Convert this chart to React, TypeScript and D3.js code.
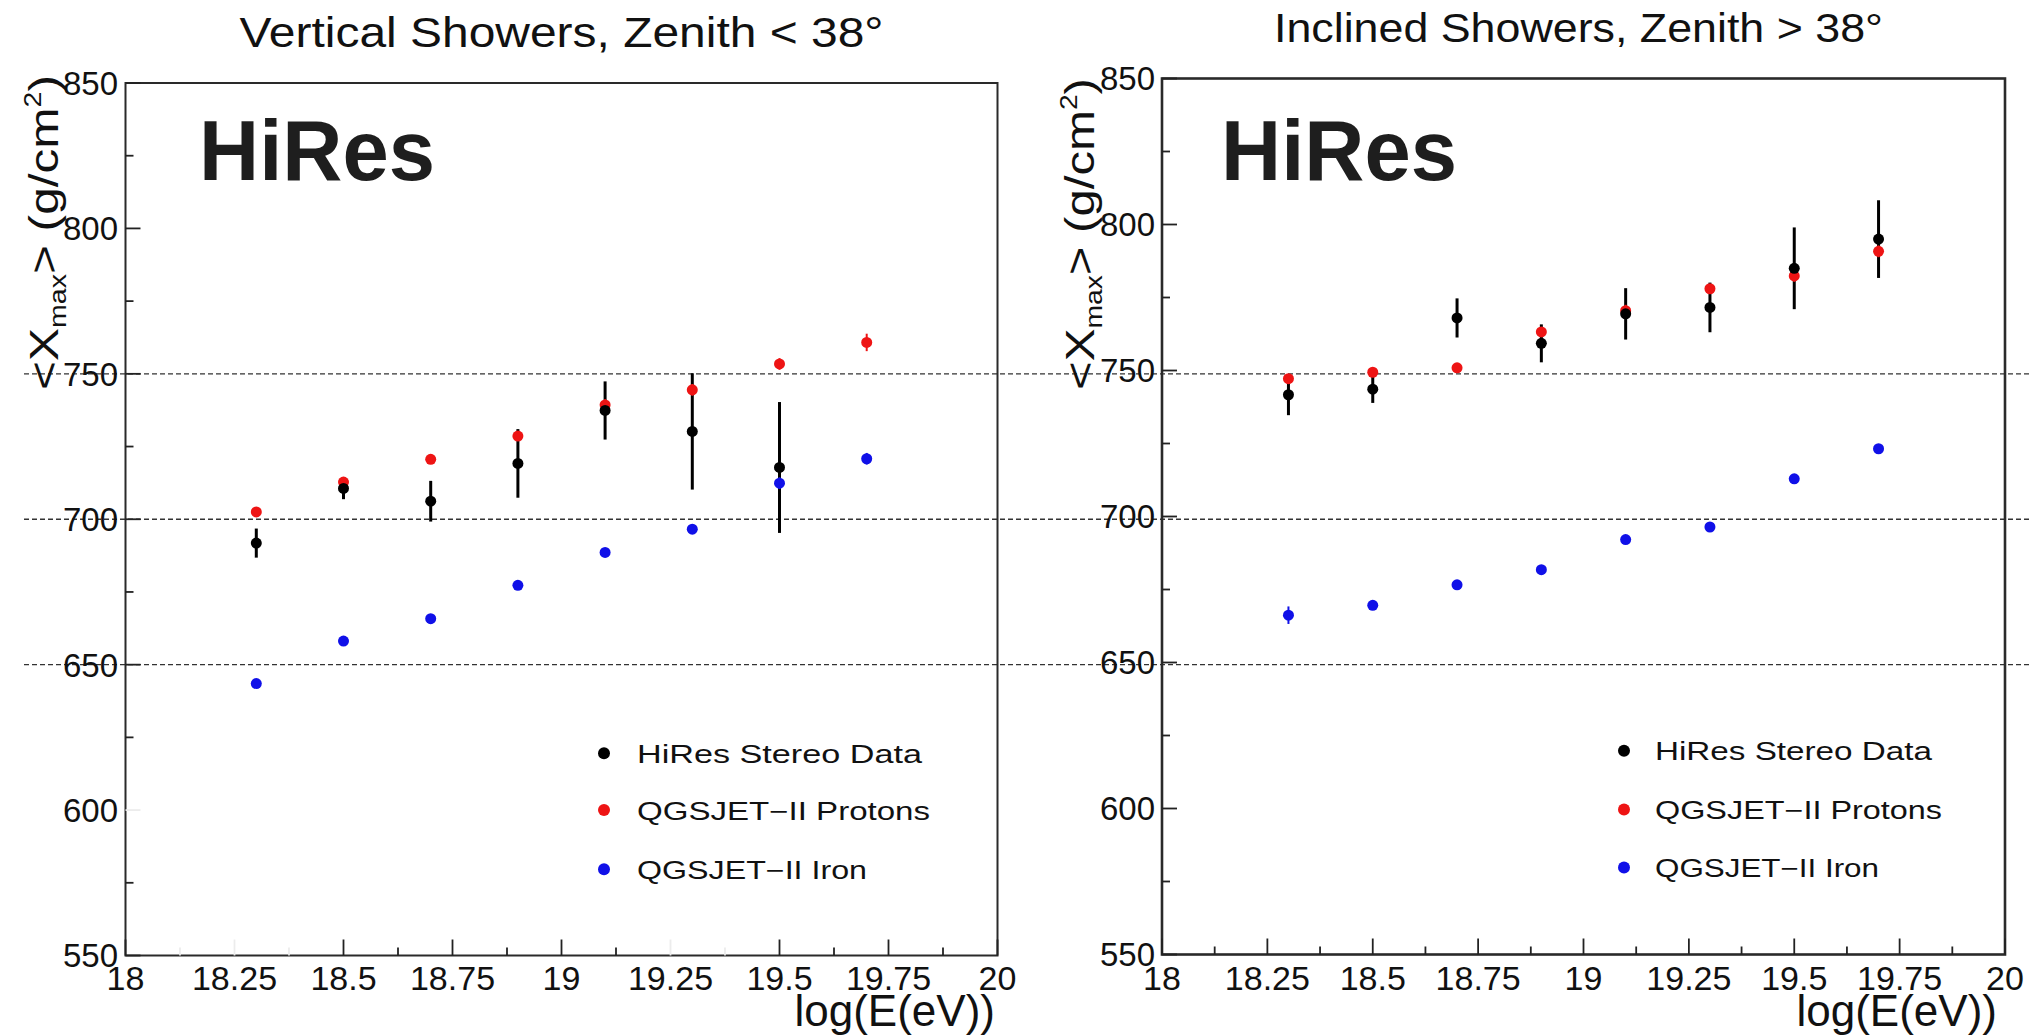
import React from 'react';
import * as d3 from 'd3';

// <Xmax> versus log10(E/eV): HiRes stereo data against QGSJET-II simulations
const energyBins = [18.3, 18.5, 18.7, 18.9, 19.1, 19.3, 19.5, 19.7];

// Vertical showers (zenith < 38 deg)
const verticalStereo = [691.8, 710.6, 706.2, 719.2, 737.4, 730.2, 717.8];
const verticalStereoErr = [5, 3.7, 7, 11.8, 10, 20, 22.5];
const verticalProton = [702.5, 712.8, 720.6, 728.6, 739.3, 744.5, 753.4, 760.8];
const verticalProtonErr = [1.5, 1.5, 1, 1.5, 2, 2, 2, 3];
const verticalIron = [643.5, 658.1, 665.8, 677.3, 688.6, 696.6, 712.4, 720.8];
const verticalIronErr = [1, 1, 1, 1.5, 1, 1, 2, 2];

// Inclined showers (zenith > 38 deg)
const inclinedStereo = [741.7, 743.6, 768.0, 759.3, 769.4, 771.6, 785.0, 795.0];
const inclinedStereoErr = [7, 4.7, 6.7, 6.5, 8.8, 8.5, 14, 13.3];
const inclinedProton = [747.2, 749.4, 750.9, 763.2, 770.5, 778.0, 782.4, 790.8];
const inclinedProtonErr = [1.5, 1.5, 1, 1.5, 2, 1.5, 2, 2];
const inclinedIron = [666.2, 669.6, 676.6, 681.8, 692.1, 696.4, 712.9, 723.2];
const inclinedIronErr = [3, 1.5, 1, 1, 1, 1, 1, 1];

const xTickValues = [18, 18.25, 18.5, 18.75, 19, 19.25, 19.5, 19.75, 20];
const xTickLabels = ['18', '18.25', '18.5', '18.75', '19', '19.25', '19.5', '19.75', '20'];
const xMinorValues = [18.125, 18.375, 18.625, 18.875, 19.125, 19.375, 19.625, 19.875];
const yTickValues = [550, 600, 650, 700, 750, 800, 850];
const yTickLabels = ['550', '600', '650', '700', '750', '800', '850'];
const yMinorValues = [575, 625, 675, 725, 775, 825];
const guideLevels = [750, 700, 650];

const panelTitles = ['Vertical Showers, Zenith < 38°', 'Inclined Showers, Zenith > 38°'];
const legendLabels = ['HiRes Stereo Data', 'QGSJET\u2212II Protons', 'QGSJET\u2212II Iron'];
const experimentLabel = 'HiRes';
const xAxisTitle = 'log(E(eV))';

const W = 2031;
const H = 1035;
const FONT = '"Liberation Sans", Arial, Helvetica, sans-serif';
const RED = '#ee1414';
const BLUE = '#1010e8';
const INK = '#111';

type Series = { values: number[]; errors: number[] };

const panels = [
  {
    stereo: { values: verticalStereo, errors: verticalStereoErr },
    proton: { values: verticalProton, errors: verticalProtonErr },
    iron: { values: verticalIron, errors: verticalIronErr },
    frame: { left: 125.5, right: 997.5, top: 83, bottom: 955.5, width: 2 },
    title: { x: 239.5, y: 47, w: 644, size: 42 },
    hires: { x: 199, y: 180 },
    yTitle: { x: 58, y: 390, w: 315 },
    yLabelX: 118,
    legend: { markX: 604, textX: 637, ys: [753.3, 810, 869.3], ws: [285, 293, 230] },
    xTitleX: 995,
    fadedX: [18.125, 18.25, 18.375, 19.25, 19.375],
    fadedY: [600],
  },
  {
    stereo: { values: inclinedStereo, errors: inclinedStereoErr },
    proton: { values: inclinedProton, errors: inclinedProtonErr },
    iron: { values: inclinedIron, errors: inclinedIronErr },
    frame: { left: 1162, right: 2005, top: 78.5, bottom: 954.5, width: 2.6 },
    title: { x: 1274, y: 42, w: 609, size: 40 },
    hires: { x: 1221, y: 180 },
    yTitle: { x: 1094, y: 390, w: 312 },
    yLabelX: 1155,
    legend: { markX: 1624, textX: 1655, ys: [750.8, 809.6, 867.6], ws: [277, 287, 224] },
    xTitleX: 1997,
    fadedX: [] as number[],
    fadedY: [] as number[],
  },
];

function Points({
  s, xs, x, y, color, r, barWidth, part,
}: {
  s: Series; xs: number[]; x: d3.ScaleLinear<number, number>; y: d3.ScaleLinear<number, number>;
  color: string; r: number; barWidth: number; part: 'bars' | 'marks' | 'both';
}) {
  return (
    <g>
      {s.values.map((v, i) => {
        const cx = x(xs[i]);
        const e = s.errors[i];
        return (
          <g key={i}>
            {part !== 'marks' && e > 0 && (
              <line x1={cx} x2={cx} y1={y(v + e)} y2={y(v - e)} stroke={color} strokeWidth={barWidth} />
            )}
            {part !== 'bars' && <circle cx={cx} cy={y(v)} r={r} fill={color} />}
          </g>
        );
      })}
    </g>
  );
}

function Panel({ p, idx }: { p: (typeof panels)[number]; idx: number }) {
  const f = p.frame;
  const x = d3.scaleLinear().domain([18, 20]).range([f.left, f.right]);
  const y = d3.scaleLinear().domain([550, 850]).range([f.bottom, f.top]);
  const tickColor = (faded: boolean) => (faded ? '#ececec' : '#222');

  return (
    <g>
      {/* panel title */}
      <text x={p.title.x} y={p.title.y} fontFamily={FONT} fontSize={p.title.size} fill={INK}
        textLength={p.title.w} lengthAdjust="spacingAndGlyphs">
        {panelTitles[idx]}
      </text>

      {/* frame */}
      <rect x={f.left} y={f.top} width={f.right - f.left} height={f.bottom - f.top}
        fill="none" stroke="#2a2a2a" strokeWidth={f.width} />

      {/* x ticks (inside) */}
      {xTickValues.map((v) => (
        <line key={'xM' + v} x1={x(v)} x2={x(v)} y1={f.bottom} y2={f.bottom - 16}
          stroke={tickColor(p.fadedX.includes(v))} strokeWidth={1.8} />
      ))}
      {xMinorValues.map((v) => (
        <line key={'xm' + v} x1={x(v)} x2={x(v)} y1={f.bottom} y2={f.bottom - 8}
          stroke={tickColor(p.fadedX.includes(v))} strokeWidth={1.8} />
      ))}
      {/* y ticks (inside) */}
      {yTickValues.map((v) => (
        <line key={'yM' + v} x1={f.left} x2={f.left + 15} y1={y(v)} y2={y(v)}
          stroke={tickColor(p.fadedY.includes(v))} strokeWidth={1.8} />
      ))}
      {yMinorValues.map((v) => (
        <line key={'ym' + v} x1={f.left} x2={f.left + 8} y1={y(v)} y2={y(v)}
          stroke={tickColor(p.fadedY.includes(v))} strokeWidth={1.8} />
      ))}

      {/* tick labels */}
      {xTickValues.map((v, i) => (
        <text key={'xl' + v} x={x(v)} y={990} textAnchor="middle" fontFamily={FONT} fontSize={34} fill={INK}>
          {xTickLabels[i]}
        </text>
      ))}
      {yTickValues.map((v, i) => (
        <text key={'yl' + v} x={p.yLabelX} y={y(v)} dy="0.36em" textAnchor="end" fontFamily={FONT} fontSize={33} fill={INK}>
          {yTickLabels[i]}
        </text>
      ))}

      {/* axis titles */}
      <text x={p.xTitleX} y={1026} textAnchor="end" fontFamily={FONT} fontSize={44} fill={INK}>
        {xAxisTitle}
      </text>
      <text transform={`translate(${p.yTitle.x},${p.yTitle.y}) rotate(-90)`} fontFamily={FONT} fontSize={40} fill={INK}
        textLength={p.yTitle.w} lengthAdjust="spacingAndGlyphs">
        {'<X'}
        <tspan fontSize={23} dy={8}>max</tspan>
        <tspan dy={-8}>{'> (g/cm'}</tspan>
        <tspan fontSize={23} dy={-17}>2</tspan>
        <tspan dy={17}>)</tspan>
      </text>

      {/* experiment tag */}
      <text x={p.hires.x} y={p.hires.y} fontFamily={FONT} fontWeight="bold" fontSize={86} fill="#1e1e1e"
        textLength={236} lengthAdjust="spacingAndGlyphs">
        {experimentLabel}
      </text>

      {/* data */}
      <Points s={p.stereo} xs={energyBins} x={x} y={y} color="#000" r={5.5} barWidth={3} part="bars" />
      <Points s={p.proton} xs={energyBins} x={x} y={y} color={RED} r={5.5} barWidth={2} part="both" />
      <Points s={p.iron} xs={energyBins} x={x} y={y} color={BLUE} r={5.5} barWidth={2} part="both" />
      <Points s={p.stereo} xs={energyBins} x={x} y={y} color="#000" r={5.5} barWidth={3} part="marks" />

      {/* legend */}
      {legendLabels.map((lab, i) => (
        <g key={lab}>
          <circle cx={p.legend.markX} cy={p.legend.ys[i]} r={6} fill={['#000', RED, BLUE][i]} />
          <text x={p.legend.textX} y={p.legend.ys[i] + 9.5} fontFamily={FONT} fontSize={25} fill={INK}
            textLength={p.legend.ws[i]} lengthAdjust="spacingAndGlyphs">
            {lab}
          </text>
        </g>
      ))}
    </g>
  );
}

export default function App() {
  const guideY = d3.scaleLinear().domain([550, 850]).range([panels[0].frame.bottom, panels[0].frame.top]);
  return (
    <svg width={W} height={H} viewBox={`0 0 ${W} ${H}`} style={{ position: 'absolute', left: 0, top: 0, background: '#fff' }}>
      <rect x={0} y={0} width={W} height={H} fill="#fff" />
      {/* dashed reference levels spanning both panels */}
      {guideLevels.map((v) => (
        <line key={v} x1={24} x2={W} y1={guideY(v)} y2={guideY(v)} stroke="#333" strokeWidth={1.4} strokeDasharray="5,3" />
      ))}
      {panels.map((p, i) => (
        <Panel key={i} p={p} idx={i} />
      ))}
    </svg>
  );
}
